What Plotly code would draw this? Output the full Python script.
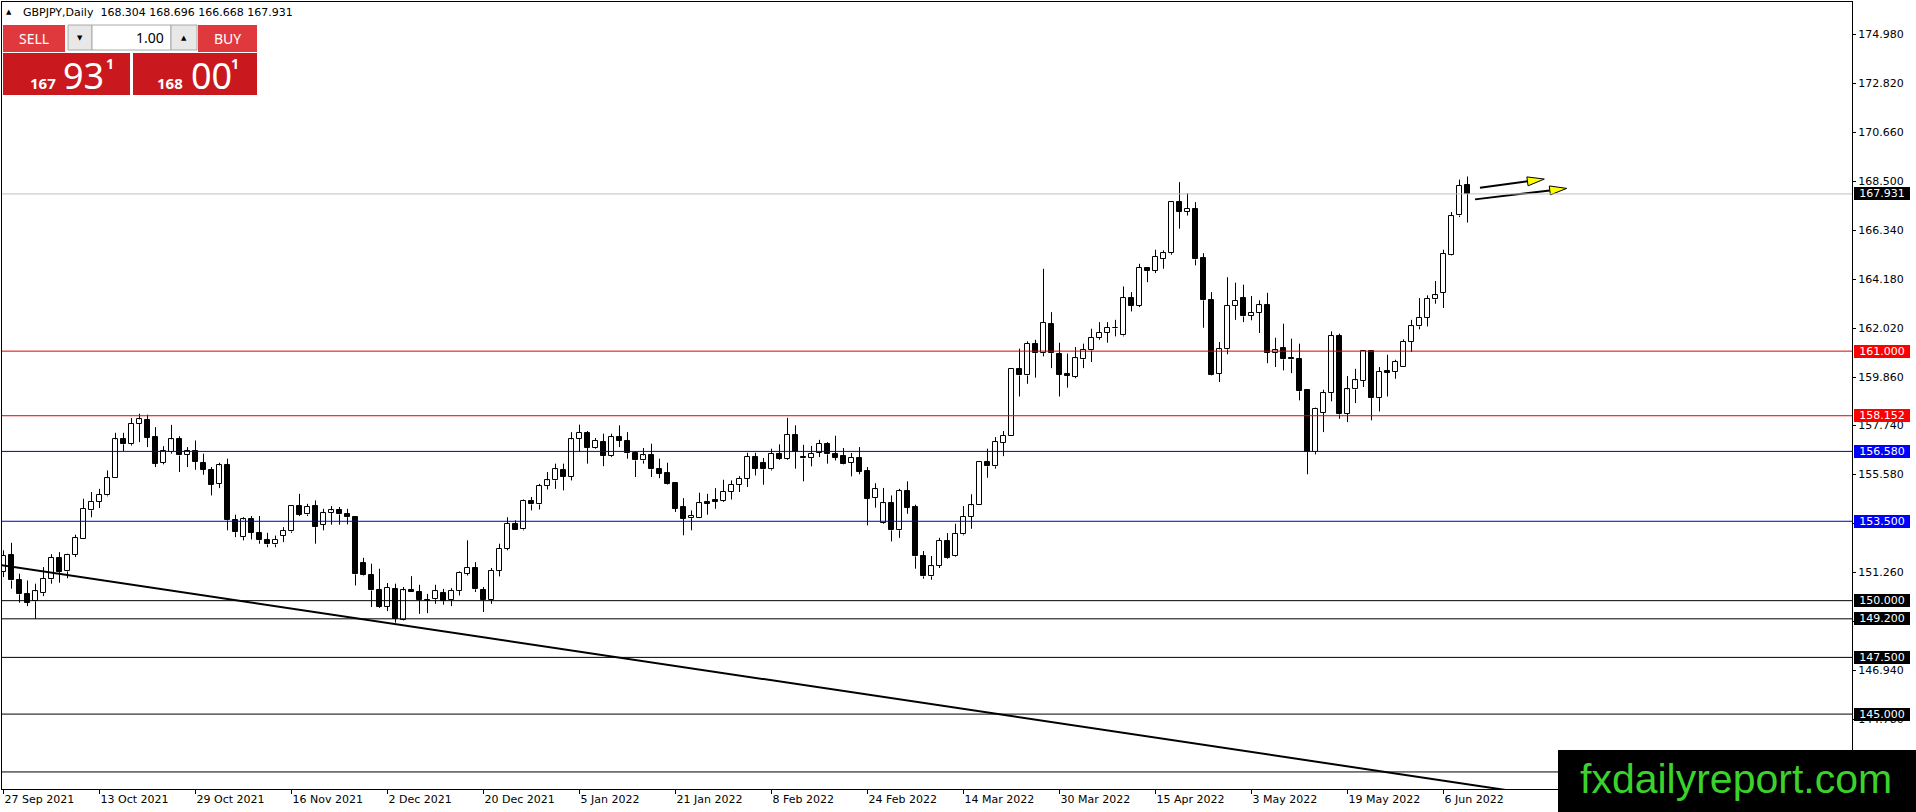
import math
import plotly.graph_objects as go

# ---------------- data ----------------
symbol_title = "GBPJPY,Daily"

opens = [
    151.26, 152.02, 150.92, 150.30, 149.97, 150.33, 150.94, 151.88, 151.29, 152.02,
    152.73, 153.98, 154.35, 154.64, 155.40, 157.14, 156.90, 157.78, 157.97, 157.21,
    156.07, 156.55, 157.14, 156.43, 156.59, 156.08, 155.77, 155.15, 155.99, 153.54,
    152.80, 153.58, 152.99, 152.69, 152.48, 152.85, 153.05, 154.17, 153.80, 154.17,
    153.35, 153.88, 153.98, 153.83, 153.68, 151.66, 151.14, 150.48, 149.72, 150.53,
    149.17, 150.48, 150.38, 150.04, 150.06, 150.33, 150.01, 150.42, 151.19, 151.44,
    150.48, 150.01, 151.33, 152.29, 153.39, 153.14, 154.39, 154.24, 155.05, 155.30,
    155.74, 155.45, 157.14, 157.39, 156.73, 156.99, 156.37, 157.21, 157.04, 156.50,
    156.18, 156.40, 155.82, 155.63, 155.20, 154.13, 153.64, 153.66, 154.36, 154.42,
    154.39, 154.79, 155.11, 155.37, 156.33, 156.08, 155.79, 156.47, 156.26, 157.32,
    156.33, 156.29, 156.51, 156.92, 156.48, 156.37, 156.07, 156.29, 155.71, 154.52,
    153.42, 154.30, 153.10, 154.83, 154.13, 151.99, 151.07, 151.53, 152.63, 151.95,
    152.92, 153.69, 154.20, 156.11, 155.92, 156.95, 157.26, 160.22, 159.93, 161.33,
    160.91, 162.21, 160.89, 160.00, 159.86, 160.64, 161.03, 161.58, 161.80, 162.03,
    161.69, 163.34, 162.99, 164.66, 164.53, 165.07, 165.32, 167.57, 167.13, 167.28,
    165.10, 163.24, 160.00, 161.08, 162.99, 163.34, 162.55, 162.68, 163.05, 160.92,
    161.15, 160.67, 160.67, 159.30, 156.55, 158.27, 159.15, 161.66, 158.24, 159.31,
    159.68, 161.00, 158.93, 160.12, 160.08, 160.30, 161.40, 162.09, 162.46, 163.28,
    163.56, 165.26, 166.98, 168.304,
]
highs = [
    152.22, 152.55, 151.19, 150.89, 150.75, 151.48, 152.05, 152.14, 152.07, 152.91,
    154.49, 154.79, 154.93, 155.74, 157.40, 157.40, 158.05, 158.24, 158.20, 157.65,
    156.81, 157.75, 157.25, 156.77, 157.06, 156.48, 155.89, 156.08, 156.26, 153.79,
    153.68, 153.73, 153.73, 152.99, 152.87, 153.24, 154.20, 154.71, 154.27, 154.42,
    154.05, 154.17, 154.13, 154.05, 153.70, 151.89, 151.63, 151.41, 150.78, 150.75,
    150.60, 151.08, 150.70, 150.30, 150.70, 150.52, 150.55, 151.29, 152.66, 151.70,
    150.60, 151.44, 152.51, 153.68, 153.54, 154.46, 154.57, 155.15, 155.67, 156.04,
    156.04, 157.43, 157.76, 157.48, 157.17, 157.36, 157.36, 157.73, 157.43, 156.59,
    156.73, 156.92, 156.26, 156.08, 155.20, 154.52, 153.98, 154.76, 154.71, 154.96,
    155.33, 155.30, 155.49, 156.52, 156.52, 156.29, 156.70, 156.89, 158.06, 157.73,
    156.87, 156.82, 157.09, 156.99, 157.27, 156.73, 156.51, 156.77, 155.89, 155.18,
    154.97, 154.64, 154.93, 155.26, 154.23, 152.19, 151.97, 152.77, 152.98, 153.39,
    154.17, 154.69, 156.15, 156.70, 157.21, 157.48, 160.25, 161.11, 161.43, 161.50,
    164.63, 162.72, 161.37, 160.89, 161.18, 161.33, 161.99, 162.28, 162.28, 162.38,
    163.85, 163.60, 164.85, 164.68, 165.47, 165.44, 167.61, 168.45, 167.97, 167.57,
    165.32, 163.60, 161.40, 164.26, 164.02, 163.93, 163.43, 163.24, 163.57, 161.59,
    162.21, 161.55, 161.33, 159.30, 158.51, 159.30, 161.87, 161.77, 159.90, 160.22,
    161.03, 161.00, 160.30, 160.84, 160.62, 161.52, 162.38, 163.34, 163.46, 164.09,
    165.47, 167.13, 168.56, 168.696,
]
lows = [
    151.04, 150.53, 149.91, 149.76, 149.20, 150.20, 150.75, 150.79, 150.99, 151.92,
    152.73, 153.68, 154.08, 154.60, 155.40, 156.59, 156.84, 156.99, 156.77, 155.89,
    156.01, 156.48, 155.67, 155.89, 155.77, 155.55, 154.64, 154.96, 153.10, 152.80,
    152.66, 152.70, 152.51, 152.36, 152.36, 152.58, 152.99, 153.73, 153.73, 152.51,
    153.10, 153.35, 153.35, 153.36, 150.67, 151.08, 149.72, 149.68, 149.54, 149.03,
    149.13, 150.38, 149.42, 149.45, 149.86, 149.82, 149.76, 150.23, 151.11, 150.38,
    149.50, 149.86, 151.07, 152.22, 153.10, 153.10, 153.98, 154.02, 154.90, 154.93,
    154.86, 155.30, 156.55, 156.04, 156.70, 155.93, 156.33, 156.77, 156.26, 155.45,
    156.04, 155.45, 155.40, 155.12, 153.91, 152.88, 153.10, 153.64, 153.79, 154.05,
    154.35, 154.46, 154.79, 155.01, 155.52, 155.11, 155.74, 156.21, 156.21, 155.82,
    155.26, 155.92, 156.33, 156.04, 156.18, 156.01, 155.48, 155.57, 153.32, 154.10,
    153.39, 152.61, 152.77, 153.83, 151.41, 150.97, 150.92, 151.44, 151.85, 151.92,
    152.88, 153.17, 154.20, 155.42, 155.82, 156.37, 157.26, 159.00, 159.56, 159.83,
    160.77, 160.25, 159.00, 159.39, 159.81, 160.25, 160.52, 161.50, 161.37, 161.65,
    161.65, 162.75, 162.94, 164.04, 164.44, 164.63, 165.25, 166.40, 166.98, 164.78,
    162.03, 159.93, 159.64, 160.86, 162.38, 162.28, 162.36, 161.80, 160.47, 160.30,
    160.15, 160.03, 158.83, 155.57, 156.45, 157.43, 158.79, 158.02, 157.87, 158.71,
    159.42, 157.95, 158.34, 159.00, 159.78, 160.30, 160.96, 161.96, 162.09, 163.09,
    162.90, 165.22, 166.91, 166.668,
]
closes = [
    151.99, 150.89, 150.28, 149.91, 150.41, 150.97, 151.88, 151.26, 152.02, 152.76,
    154.05, 154.35, 154.67, 155.40, 157.11, 156.89, 157.80, 157.99, 157.17, 156.04,
    156.58, 157.11, 156.40, 156.59, 156.11, 155.77, 155.12, 155.96, 153.54, 153.02,
    153.58, 152.99, 152.66, 152.48, 152.69, 153.07, 154.17, 153.79, 154.15, 153.24,
    153.86, 153.98, 153.80, 153.68, 151.16, 151.11, 150.45, 149.72, 150.57, 149.20,
    150.45, 150.38, 150.01, 150.00, 150.42, 149.98, 150.42, 151.22, 151.44, 150.50,
    150.01, 151.33, 152.29, 153.39, 153.10, 154.39, 154.24, 155.05, 155.30, 155.79,
    155.45, 157.11, 157.39, 156.73, 157.04, 156.37, 157.21, 157.04, 156.50, 156.18,
    156.40, 155.79, 155.60, 155.15, 154.05, 153.61, 153.73, 154.30, 154.27, 154.35,
    154.79, 155.11, 155.37, 156.33, 155.82, 155.79, 156.48, 156.26, 157.32, 156.55,
    156.27, 156.48, 156.92, 156.45, 156.29, 156.04, 156.29, 155.67, 154.49, 154.91,
    154.30, 153.10, 154.83, 154.10, 151.95, 151.07, 151.52, 152.63, 151.89, 152.95,
    153.69, 154.20, 156.11, 155.92, 156.99, 157.26, 160.22, 159.93, 161.33, 160.91,
    162.24, 160.91, 159.97, 159.90, 160.69, 161.06, 161.58, 161.80, 162.02, 162.00,
    163.34, 162.99, 164.66, 164.53, 165.15, 165.32, 167.57, 167.13, 167.28, 165.04,
    163.24, 159.97, 161.08, 162.99, 163.21, 162.53, 162.68, 163.02, 160.92, 161.03,
    160.64, 160.64, 159.23, 156.55, 158.46, 159.15, 161.66, 158.21, 159.31, 159.71,
    161.00, 158.93, 160.08, 160.05, 160.52, 161.40, 162.10, 162.46, 163.31, 163.46,
    165.29, 166.95, 168.30, 167.931,
]

date_tick_bars = [0, 12, 24, 36, 48, 60, 72, 84, 96, 108, 120, 132, 144, 156, 168, 180]
date_tick_labels = ["27 Sep 2021", "13 Oct 2021", "29 Oct 2021", "16 Nov 2021",
                    "2 Dec 2021", "20 Dec 2021", "5 Jan 2022", "21 Jan 2022",
                    "8 Feb 2022", "24 Feb 2022", "14 Mar 2022", "30 Mar 2022",
                    "15 Apr 2022", "3 May 2022", "19 May 2022", "6 Jun 2022"]
price_ticks = [174.98, 172.82, 170.66, 168.50, 166.34, 164.18, 162.02, 159.86,
               157.74, 155.58, 153.42, 151.26, 149.10, 146.94, 144.78]

level_prices = [161.000, 158.152, 156.580, 153.500, 150.000, 149.200, 147.500, 145.000, 142.45]
level_kind = ["red", "red", "blue", "blue", "black", "black", "black", "black", "black"]
level_labeled = [True, True, True, True, True, True, True, True, False]

bid_price = 167.931
ask_price = 168.001
lot_size = "1.00"

trend_bars = [-1.0, 210.0]
trend_prices = [151.603, 140.483]

arrow_start_bars = [184.56, 183.94]
arrow_start_prices = [168.20, 167.69]
arrow_tip_bars = [192.6, 195.4]
arrow_tip_prices = [168.585, 168.174]

watermark_text = "fxdailyreport.com"

# ---------------- layout geometry ----------------
W, H = 1916, 812
ML, MR, MT, MB = 2, 64, 2, 23
PW, PH = W - ML - MR, H - MT - MB
BAR_PX = 8.0
PRICE_PX = 22.685
X0 = -1.5 / BAR_PX
X1 = X0 + PW / BAR_PX
Y1 = 174.98 + (34 - MT) / PRICE_PX
Y0 = Y1 - PH / PRICE_PX


def fx(px):
    return (px - ML) / PW


def fy(py):
    return (H - MB - py) / PH


line_colors = {"red": "#dc0000", "blue": "#0000c8", "black": "#000000"}
box_colors = {"red": "#ff0000", "blue": "#0000ff", "black": "#000000"}
AX_FONT = "DejaVu Sans"

# ---------------- candles ----------------
n = len(opens)
bars = list(range(n))
body_base = [min(o, c) for o, c in zip(opens, closes)]
body_len = [max(abs(c - o), 0.04) for o, c in zip(opens, closes)]
body_col = ["#ffffff" if c >= o else "#000000" for o, c in zip(opens, closes)]

wx, wy = [], []
for k, o, h, l, c in zip(bars, opens, highs, lows, closes):
    top, bot = max(o, c), min(o, c)
    wx += [k, k, None, k, k, None]
    wy += [h, top, None, bot, l, None]

fig = go.Figure()
fig.add_trace(go.Scatter(x=wx, y=wy, mode="lines", line=dict(color="black", width=1),
                         hoverinfo="skip", showlegend=False))
fig.add_trace(go.Bar(x=bars, y=body_len, base=body_base, width=0.55,
                     marker=dict(color=body_col, line=dict(color="black", width=1)),
                     hoverinfo="skip", showlegend=False))

# trend line
fig.add_trace(go.Scatter(x=trend_bars, y=trend_prices, mode="lines",
                         line=dict(color="black", width=2), hoverinfo="skip", showlegend=False))

# arrows (line + yellow head)
HEAD_L, HEAD_W = 17.0, 9.0
for sb, sp, tb, tp in zip(arrow_start_bars, arrow_start_prices, arrow_tip_bars, arrow_tip_prices):
    sx, sy = (sb - X0) * BAR_PX, (sp - Y0) * PRICE_PX
    tx, ty = (tb - X0) * BAR_PX, (tp - Y0) * PRICE_PX
    d = math.hypot(tx - sx, ty - sy)
    ux, uy = (tx - sx) / d, (ty - sy) / d
    bx, by = tx - HEAD_L * ux, ty - HEAD_L * uy
    nx, ny = -uy, ux
    c1 = (bx + HEAD_W / 2 * nx, by + HEAD_W / 2 * ny)
    c2 = (bx - HEAD_W / 2 * nx, by - HEAD_W / 2 * ny)
    to_k = lambda v: v / BAR_PX + X0
    to_p = lambda v: v / PRICE_PX + Y0
    fig.add_trace(go.Scatter(x=[sb, to_k(bx)], y=[sp, to_p(by)], mode="lines",
                             line=dict(color="black", width=2), hoverinfo="skip", showlegend=False))
    fig.add_trace(go.Scatter(x=[to_k(tx), to_k(c1[0]), to_k(c2[0]), to_k(tx)],
                             y=[to_p(ty), to_p(c1[1]), to_p(c2[1]), to_p(ty)],
                             mode="lines", fill="toself", fillcolor="#ffff00",
                             line=dict(color="black", width=1), hoverinfo="skip", showlegend=False))

# ---------------- shapes ----------------
shapes = [dict(type="line", xref="paper", x0=0, x1=1, yref="y", y0=bid_price, y1=bid_price,
               line=dict(color="#c0c0c0", width=1))]
for p, kind in zip(level_prices, level_kind):
    shapes.append(dict(type="line", xref="paper", x0=0, x1=1, yref="y", y0=p, y1=p,
                       line=dict(color=line_colors[kind], width=1)))


def rect(x0, y0, x1, y1, fill, border=None):
    return dict(type="rect", xref="paper", yref="paper",
                x0=fx(x0), x1=fx(x1), y0=fy(y1), y1=fy(y0),
                fillcolor=fill, line=dict(color=border or fill, width=1 if border else 0))


# one-click trading panel
shapes += [
    rect(3, 25, 65, 52, "#e0393d"),
    rect(198, 25, 257, 52, "#e0393d"),
    rect(3, 53, 130, 95, "#c9191e"),
    rect(133, 53, 257, 95, "#c9191e"),
    rect(68, 25, 92, 50, "#e8e8e8", "#a8a8a8"),
    rect(92, 25, 171, 50, "#ffffff", "#a8a8a8"),
    rect(171, 25, 197, 50, "#e8e8e8", "#a8a8a8"),
]
# watermark box
shapes.append(rect(1558, 750, 1920, 816, "#000000"))

# ---------------- annotations ----------------
ann = []


def text(x, y, s, size, color="black", family=AX_FONT, xanchor="left", bold=False):
    if bold:
        s = "<b>" + s + "</b>"
    ann.append(dict(xref="paper", yref="paper", x=fx(x), y=fy(y), text=s, showarrow=False,
                    xanchor=xanchor, yanchor="middle", borderpad=0,
                    font=dict(family=family, size=size, color=color)))


title = "%s\u00a0\u00a0%.3f %.3f %.3f %.3f" % (symbol_title, opens[-1], highs[-1], lows[-1], closes[-1])
text(22, 13, title, 11)
text(9, 12, "\u25b2", 7, xanchor="center")

text(34, 39, "SELL", 14, "white", "Noto Sans", "center")
text(227, 39, "BUY", 14, "white", "Noto Sans", "center")
text(165, 38, lot_size, 14, "black", "Noto Sans", "right")
text(80, 38, "\u25bc", 7, xanchor="center")
text(184, 38, "\u25b2", 7, xanchor="center")

bs, as_ = "%.3f" % bid_price, "%.3f" % ask_price
text(29, 83, bs[:3], 15, "white", "Noto Sans", bold=True)
text(62, 76, bs[4:6], 36, "white", "Noto Sans")
text(109.5, 63, bs[6], 14, "white", "Noto Sans", "center", bold=True)
text(156, 83, as_[:3], 15, "white", "Noto Sans", bold=True)
text(190, 76, as_[4:6], 36, "white", "Noto Sans")
text(235.5, 63, as_[6], 14, "white", "Noto Sans", "center", bold=True)


# price-axis boxes for levels
def level_box(p, bg):
    ann.append(dict(xref="paper", x=1, xanchor="left", xshift=2, yref="y", y=p, yanchor="middle",
                    text="%.3f" % p, showarrow=False, bgcolor=bg, width=56, height=13,
                    borderpad=0, borderwidth=0, align="center",
                    font=dict(family=AX_FONT, size=11, color="white")))


for p, kind, lab in zip(level_prices, level_kind, level_labeled):
    if lab:
        level_box(p, box_colors[kind])
level_box(bid_price, "#000000")

text(1736, 779, watermark_text, 41, "#3cd22c", "Liberation Sans", "center")

fig.update_layout(
    width=W, height=H,
    margin=dict(l=ML, r=MR, t=MT, b=MB),
    paper_bgcolor="white", plot_bgcolor="white",
    showlegend=False, bargap=0,
    shapes=shapes, annotations=ann,
    xaxis=dict(range=[X0, X1], showgrid=False, zeroline=False, showline=True, mirror=True,
               linecolor="black", linewidth=1, ticks="outside", ticklen=4, tickcolor="black",
               tickvals=date_tick_bars, ticktext=date_tick_labels,
               ticklabelposition="outside right",
               tickfont=dict(family=AX_FONT, size=11, color="black"), fixedrange=True),
    yaxis=dict(range=[Y0, Y1], side="right", showgrid=False, zeroline=False, showline=True,
               mirror=True, linecolor="black", linewidth=1, ticks="outside", ticklen=3,
               tickcolor="black", tickvals=price_ticks,
               ticktext=["%.3f" % v for v in price_ticks],
               tickfont=dict(family=AX_FONT, size=11, color="black"), fixedrange=True),
)

fig.write_html("out.html", config={"displayModeBar": False},
               post_script="document.body.style.margin='0';document.body.style.overflow='hidden';")
